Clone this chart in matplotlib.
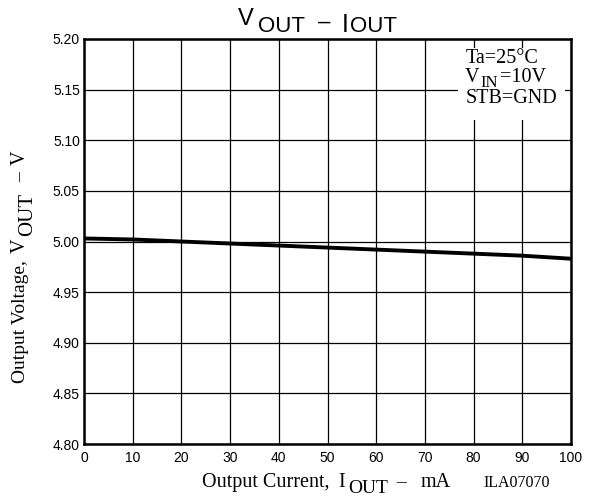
import matplotlib
matplotlib.use("Agg")
import matplotlib.pyplot as plt
from matplotlib.transforms import IdentityTransform
from matplotlib.patches import Rectangle

current = [0, 10, 20, 30, 40, 50, 60, 70, 80, 90, 100]
vout = [5.003, 5.002, 5.000, 4.998, 4.996, 4.994, 4.992, 4.990, 4.988, 4.986, 4.983]
xticks = [0, 10, 20, 30, 40, 50, 60, 70, 80, 90, 100]
yticks = [4.80, 4.85, 4.90, 4.95, 5.00, 5.05, 5.10, 5.15, 5.20]

W, H = 593, 497
SANS = 'Liberation Sans'
SERIF = 'Liberation Serif'

fig = plt.figure(figsize=(W / 100, H / 100), dpi=100)
ax = fig.add_axes([84 / W, 1 - 444 / H, (571 - 84) / W, (444 - 39) / H])

ax.plot(current, vout, color='black', lw=2.8, zorder=3, solid_capstyle='butt')
ax.set_xlim(0, 100)
ax.set_ylim(4.80, 5.20)
ax.set_xticks(xticks)
ax.set_yticks(yticks)
ax.set_xticklabels([str(t) for t in xticks], fontfamily=SANS, fontsize=10)
ax.set_yticklabels([f"{t:.2f}" for t in yticks], fontfamily=SANS, fontsize=10)
ax.tick_params(axis='x', length=0, pad=5)
ax.tick_params(axis='y', length=0, pad=3)
ax.grid(True, color='black', lw=0.9)
for s in ax.spines.values():
    s.set_linewidth(1.8)
    s.set_zorder(6)

# white box behind the condition notes
ax.add_patch(Rectangle(((458 - 84) / 487, (444 - 120) / 405), (565 - 458) / 487, (120 - 48) / 405,
                       transform=ax.transAxes, facecolor='white', edgecolor='none', zorder=4))


def piece(s, x, y, size, family, rotation=0):
    """x, y in image pixels (origin top-left); anchor at baseline-left."""
    fig.text(x, H - y, s, transform=IdentityTransform(), fontsize=size, fontfamily=family,
             ha='left', va='baseline', rotation=rotation, rotation_mode='anchor', zorder=7)


# title
piece('V', 238, 25, 17, SANS)
piece('OUT', 258, 32, 16, SANS)
piece('–', 318, 28, 16, SANS)
piece('I', 342, 32, 18, SANS)
piece('OUT', 350, 32, 16, SANS)

# x label
piece('Output Current,', 202, 487, 14.5, SERIF)
piece('I', 338, 487, 14.5, SERIF)
piece('OUT', 348, 493, 14, SERIF)
piece('–', 396, 487, 14, SERIF)
piece('mA', 421, 487, 14.5, SERIF)
piece('ILA07070', 483, 487, 11.5, SERIF)

# y label (rotated)
piece('Output Voltage,', 25, 383, 14, SERIF, rotation=90)
piece('V', 25, 253, 14.5, SERIF, rotation=90)
piece('OUT', 32, 236, 15, SERIF, rotation=90)
piece('–', 25, 182, 14, SERIF, rotation=90)
piece('V', 25, 165, 14.5, SERIF, rotation=90)

# conditions
piece('Ta=25°C', 466, 63, 14.5, SERIF)
piece('V', 465, 82, 14.5, SERIF)
piece('IN', 480, 87, 12, SERIF)
piece('=10V', 500, 82, 14.5, SERIF)
piece('STB=GND', 466, 103, 14.5, SERIF)

fig.savefig('out.png', dpi=100)
